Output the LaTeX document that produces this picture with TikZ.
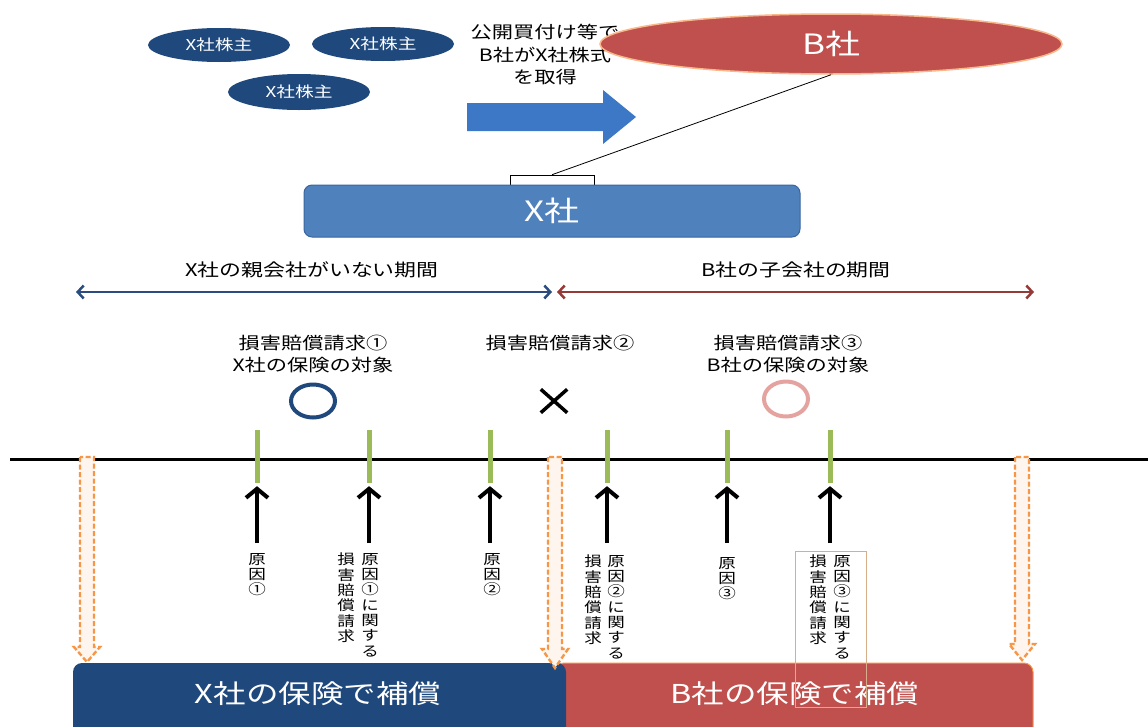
\documentclass[tikz,border=0pt]{standalone}
\usepackage{fontspec}
\setmainfont{Noto Sans CJK JP}[FakeStretch=1.25]
\usetikzlibrary{shapes.geometric,arrows.meta}
\definecolor{navy}{HTML}{1F497D}
\definecolor{xbox}{HTML}{4F81BD}
\definecolor{xboxline}{HTML}{3A66A0}
\definecolor{barrow}{HTML}{3C78C6}
\definecolor{bred}{HTML}{C0504D}
\definecolor{borange}{HTML}{F79646}
\definecolor{bedge}{HTML}{F9B88A}
\definecolor{tgreen}{HTML}{9BBB59}
\definecolor{pinkc}{HTML}{E5A3A0}
\definecolor{pblue}{HTML}{2A4C80}
\definecolor{pred}{HTML}{963A38}
\definecolor{tanbox}{HTML}{D8AE8A}
\definecolor{palefill}{HTML}{FEF6EE}
\newcommand\orangedown[4]{%
  \draw[hollowarrow] ({#1-7},#2) -- ({#1-7},#3) -- ({#1-13},#3) -- (#1,#4)
    -- ({#1+13},#3) -- ({#1+7},#3) -- ({#1+7},#2) -- cycle;}
\tikzset{
  shareholder/.style={ellipse, fill=navy, minimum width=142pt, minimum height=34pt,
    inner sep=0pt, text=white, font=\fontsize{15}{18}\selectfont},
  label/.style={align=center, inner sep=0pt, font=\fontsize{17}{22}\selectfont},
  tick/.style={rectangle, fill=tgreen, minimum width=5pt, minimum height=53pt, inner sep=0pt},
  uparrow/.style={line width=4pt, -{Straight Barb[length=9pt,width=22pt]}, shorten >=3pt},
  vtext/.style={align=center, anchor=north, inner sep=0pt, font=\fontsize{14}{15.3}\selectfont},
  hollowarrow/.style={draw=borange, fill=palefill, line width=2.4pt, dash pattern=on 5pt off 2.5pt},
  period/.style={line width=2.5pt, {Straight Barb[length=6pt,width=13pt]}-{Straight Barb[length=6pt,width=13pt]}},
  bigbox/.style={rectangle, rounded corners=9pt, minimum height=80pt, inner sep=0pt,
    text=white, font=\fontsize{26}{30}\selectfont},
}
\begin{document}
\begin{tikzpicture}[x=1pt,y=-1pt]
\useasboundingbox (0,0) rectangle (1148,726);
\clip (0,0) rectangle (1148,726);
\fill[white] (0,0) rectangle (1148,726);

% shareholders
\node[shareholder] (s1) at (219,45) {X社株主};
\node[shareholder] (s2) at (383,44) {X社株主};
\node[shareholder, minimum height=36pt] (s3) at (299,92) {X社株主};

% tender offer text and arrow
\node[label, font=\fontsize{17}{22.5}\selectfont] (tob) at (545,55) {公開買付け等で\\B社がX社株式\\を取得};
\fill[barrow] (467,103) -- (603,103) -- (603,90) -- (636,117) -- (603,144) -- (603,131) -- (467,131) -- cycle;

% B company
\node[ellipse, fill=bred, draw=bedge, line width=1.5pt, minimum width=462pt, minimum height=60pt,
  inner sep=0pt, text=white, font=\fontsize{28}{32}\selectfont] (B) at (831,44) {B社};

% X company
\node[rectangle, draw=black, fill=white, line width=0.6pt, minimum width=84pt, minimum height=12pt, inner sep=0pt] (shr) at (552,181) {};
\node[rectangle, rounded corners=8pt, fill=xbox, draw=xboxline, line width=1pt, minimum width=496pt,
  minimum height=52pt, inner sep=0pt, text=white, font=\fontsize{28}{32}\selectfont] (X) at (552,211) {X社};
\draw[line width=0.8pt] (shr.north) -- (B.south);

% periods
\node[label, font=\fontsize{17.5}{20}\selectfont] (p1l) at (312,270) {X社の親会社がいない期間};
\node[label, font=\fontsize{17.5}{20}\selectfont] (p2l) at (796,270) {B社の子会社の期間};
\coordinate (p1a) at (76,292);
\coordinate (p1b) at (552,292);
\coordinate (p2a) at (557,292);
\coordinate (p2b) at (1034,292);
\draw[period, pblue] (p1a) -- (p1b);
\draw[period, pred] (p2a) -- (p2b);

% claims labels
\node[label] (c1) at (313,354) {損害賠償請求①\\X社の保険の対象};
\node[label] (c2) at (560,343) {損害賠償請求②};
\node[label] (c3) at (788,354) {損害賠償請求③\\B社の保険の対象};
\node[ellipse, draw=navy, line width=4pt, minimum width=44pt, minimum height=33pt, inner sep=0pt] (ok1) at (313,401) {};
\node[ellipse, draw=pinkc, line width=4pt, minimum width=44pt, minimum height=35pt, inner sep=0pt] (ok3) at (786,399) {};
\node[minimum width=26pt, minimum height=23pt, inner sep=0pt] (ng) at (554,401) {};
\draw[line width=3.5pt] (ng.north west) -- (ng.south east) (ng.north east) -- (ng.south west);

% bottom boxes
\node[bigbox, fill=bred, draw=borange, line width=1pt, minimum width=478pt] (bb) at (794,703) {};
\node[bigbox, fill=navy, minimum width=493pt] (bx) at (319.5,703) {};
\node[text=white, font=\fontsize{26}{30}\selectfont] (bxt) at (318,694) {X社の保険で補償};
\node[text=white, font=\fontsize{26}{30}\selectfont] (bbt) at (795,694) {B社の保険で補償};

% timeline
\coordinate (tl0) at (10,459);
\coordinate (tl1) at (1148,459);
\draw[line width=3pt] (tl0) -- (tl1);

% dashed hollow arrows
\orangedown{87}{457}{647}{662}
\orangedown{555}{457}{649}{668}
\orangedown{1022}{457}{644}{660}

% ticks and cause arrows
\foreach \n/\x in {1/257,2/369,3/490,4/607,5/727,6/830}{
  \node[tick] (t\n) at (\x,456.5) {};
  \coordinate (a\n) at (\x,543);
  \draw[uparrow] (a\n) -- (t\n.south);
}

% vertical texts
\node[vtext] (v1) at (257,553) {原\\因\\①};
\node[vtext] (v2r) at (370,553) {原\\因\\①\\に\\関\\す\\る};
\node[vtext] (v2l) at (346,553) {損\\害\\賠\\償\\請\\求};
\node[vtext] (v3) at (492,553) {原\\因\\②};
\node[vtext] (v4r) at (616,555) {原\\因\\②\\に\\関\\す\\る};
\node[vtext] (v4l) at (593,555) {損\\害\\賠\\償\\請\\求};
\node[vtext] (v5) at (727,557) {原\\因\\③};
\node[vtext] (v6r) at (842,555) {原\\因\\③\\に\\関\\す\\る};
\node[vtext] (v6l) at (818,555) {損\\害\\賠\\償\\請\\求};
\node[draw=tanbox, line width=1pt, rectangle, minimum width=71pt, minimum height=156pt, inner sep=0pt] (frame6) at (830.5,629) {};
\end{tikzpicture}
\end{document}
